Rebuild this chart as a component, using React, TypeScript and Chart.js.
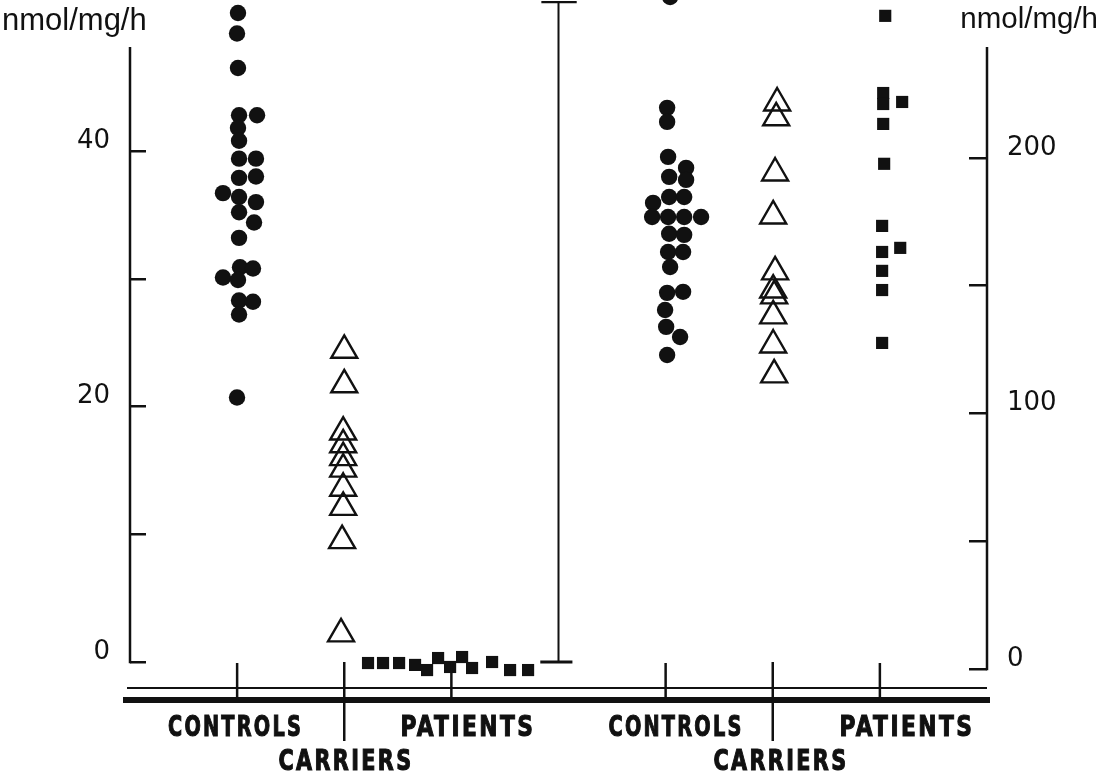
import React, { useEffect, useRef } from 'react';
import { Chart, registerables } from 'chart.js';

Chart.register(...registerables);

const INK = '#111111';
const UNIT = 'nmol/mg/h';

const CATEGORY_LABELS = ['CONTROLS', 'CARRIERS', 'PATIENTS', 'CONTROLS', 'CARRIERS', 'PATIENTS'];
const CATEGORY_X = [1, 2, 3, 5, 6, 7];
const SEPARATOR_X = 4;

const LEFT_TICKS = [0, 10, 20, 30, 40];
const LEFT_TICK_LABELS = ['0', '', '20', '', '40'];
const RIGHT_TICKS = [0, 50, 100, 150, 200];
const RIGHT_TICK_LABELS = ['0', '', '100', '', '200'];
const LEFT_AXIS_TOP = 48.14;
const RIGHT_AXIS_TOP = 243.4;

// Left panel (left axis)
const leftControlsX = [1.008, 0.999, 1.008, 1.018, 1.186, 1.008, 1.018, 1.018, 1.176, 1.018, 1.176, 0.868, 1.018, 1.176, 1.018, 1.158, 1.018, 1.027, 1.148, 0.868, 1.008, 1.018, 1.148, 1.018, 0.999];
const leftControlsY = [50.8, 49.2, 46.5, 42.8, 42.8, 41.8, 40.8, 39.4, 39.4, 37.9, 38.0, 36.7, 36.4, 36.0, 35.2, 34.4, 33.2, 30.9, 30.8, 30.1, 29.9, 28.3, 28.2, 27.2, 20.7];

const leftCarriersX = [2.0, 2.0, 1.99, 1.99, 1.99, 1.99, 1.99, 1.99, 1.98, 1.97];
const leftCarriersY = [24.4, 21.7, 18.0, 17.0, 16.0, 15.1, 13.6, 12.1, 9.5, 2.2];

const leftPatientsX = [2.222, 2.362, 2.512, 2.661, 2.773, 2.876, 2.988, 3.1, 3.193, 3.38, 3.548, 3.716];
const leftPatientsY = [-0.08, -0.08, -0.08, -0.23, -0.63, 0.31, -0.39, 0.39, -0.47, 0.0, -0.63, -0.63];

// Right panel (right axis)
const rightControlsX = [5.042, 5.014, 5.014, 5.023, 5.191, 5.033, 5.191, 4.883, 5.033, 5.173, 4.874, 5.023, 5.173, 5.331, 5.033, 5.173, 5.023, 5.163, 5.042, 5.014, 5.163, 4.995, 5.005, 5.135, 5.014];
const rightControlsY = [263, 219.6, 214.1, 200.4, 196.1, 192.6, 191.4, 182.4, 184.7, 184.7, 176.9, 176.9, 176.9, 176.9, 170.3, 169.9, 163.2, 163.2, 157.3, 147.2, 147.6, 140.5, 133.9, 129.9, 122.9];

const rightCarriersX = [6.041, 6.032, 6.022, 6.004, 6.022, 6.004, 6.013, 6.004, 6.004, 6.013];
const rightCarriersY = [221.5, 215.7, 194.1, 177.3, 155.4, 148.3, 146.0, 138.2, 126.8, 115.1];

const rightPatientsX = [7.05, 7.031, 7.031, 7.208, 7.031, 7.04, 7.021, 7.021, 7.19, 7.021, 7.021, 7.021];
const rightPatientsY = [255.6, 225.4, 221.1, 221.9, 213.3, 197.7, 173.4, 163.2, 164.8, 155.8, 148.3, 127.6];

const SEPARATOR_TOP = 51.66;

const pts = (xs: number[], ys: number[]) => xs.map((x, i) => ({ x, y: ys[i] }));

const circles = (xs: number[], ys: number[], axis: string) => ({
  data: pts(xs, ys),
  yAxisID: axis,
  pointStyle: 'circle',
  pointRadius: 8.2,
  pointBackgroundColor: INK,
  pointBorderColor: INK,
  pointBorderWidth: 0,
  showLine: false,
  clip: false,
});
const triangles = (xs: number[], ys: number[], axis: string) => ({
  data: pts(xs, ys),
  yAxisID: axis,
  pointStyle: 'triangle',
  pointRadius: 15,
  pointBackgroundColor: 'rgba(0,0,0,0)',
  pointBorderColor: INK,
  pointBorderWidth: 2.4,
  showLine: false,
  clip: false,
});
const squares = (xs: number[], ys: number[], axis: string) => ({
  data: pts(xs, ys),
  yAxisID: axis,
  pointStyle: 'rect',
  pointRadius: 8.6,
  pointBackgroundColor: INK,
  pointBorderColor: INK,
  pointBorderWidth: 0,
  showLine: false,
  clip: false,
});
const rule = (data: { x: number; y: number }[], width: number) => ({
  data,
  yAxisID: 'y',
  showLine: true,
  borderColor: INK,
  borderWidth: width,
  pointRadius: 0,
  clip: false,
});

const LABEL_SHIFT = [-1.6, 1.7, 16.6, 10.4, 8.2, 27.1];
const LABEL_ROW = [0, 1, 0, 0, 1, 0];

const decor = {
  id: 'decor',
  afterDraw(chart: any) {
    const { ctx, chartArea, scales } = chart;
    const xs = scales.x;
    const ys = scales.y;
    const ys2 = scales.y2;
    ctx.save();
    ctx.strokeStyle = INK;
    ctx.fillStyle = INK;
    ctx.lineCap = 'butt';

    // axis lines (from top of scale down to zero)
    const zeroL = ys.getPixelForValue(0);
    const zeroR = ys2.getPixelForValue(0);
    ctx.lineWidth = 2.5;
    ctx.beginPath();
    ctx.moveTo(chartArea.left, ys.getPixelForValue(LEFT_AXIS_TOP));
    ctx.lineTo(chartArea.left, zeroL + 1.25);
    ctx.moveTo(chartArea.right, ys2.getPixelForValue(RIGHT_AXIS_TOP));
    ctx.lineTo(chartArea.right, zeroR + 1.25);
    ctx.stroke();

    // base lines
    const thinY = zeroR + 19;
    const thickY = zeroR + 31;
    ctx.lineWidth = 2;
    ctx.beginPath();
    ctx.moveTo(chartArea.left - 3, thinY);
    ctx.lineTo(chartArea.right, thinY);
    ctx.stroke();
    ctx.lineWidth = 6;
    ctx.beginPath();
    ctx.moveTo(chartArea.left - 7, thickY);
    ctx.lineTo(chartArea.right + 3, thickY);
    ctx.stroke();

    // category ticks
    ctx.lineWidth = 2.5;
    CATEGORY_X.forEach((cx, i) => {
      const px = xs.getPixelForValue(cx);
      ctx.beginPath();
      if (LABEL_ROW[i] === 1) {
        ctx.moveTo(px, zeroL);
        ctx.lineTo(px, zeroR + 72);
      } else {
        ctx.moveTo(px, zeroL + 1);
        ctx.lineTo(px, thickY);
      }
      ctx.stroke();
    });

    // category labels
    ctx.font = 'bold 29px "Liberation Sans Narrow", "DejaVu Sans Condensed", "Liberation Sans", Arial, sans-serif';
    try { (ctx as any).letterSpacing = '3px'; } catch (e) {}
    ctx.textAlign = 'center';
    ctx.textBaseline = 'middle';
    ctx.lineWidth = 1.1;
    CATEGORY_LABELS.forEach((lab, i) => {
      const px = xs.getPixelForValue(CATEGORY_X[i]) + LABEL_SHIFT[i];
      const py = zeroR + (LABEL_ROW[i] === 1 ? 93 : 59);
      const w = ctx.measureText(lab).width;
      ctx.save();
      ctx.translate(px, py);
      ctx.scale(135 / w, 1);
      ctx.fillText(lab, 0, 0);
      ctx.strokeText(lab, 0, 0);
      ctx.restore();
    });
    try { (ctx as any).letterSpacing = '0px'; } catch (e) {}

    // units
    ctx.textBaseline = 'alphabetic';
    ctx.textAlign = 'left';
    ctx.font = '31px "Liberation Sans", Arial, sans-serif';
    ctx.fillText(UNIT, 2, 30);
    ctx.textAlign = 'right';
    ctx.font = '29.5px "Liberation Sans", Arial, sans-serif';
    ctx.fillText(UNIT, 1098, 28);
    ctx.restore();
  },
};

export default function App() {
  const ref = useRef<HTMLCanvasElement | null>(null);

  useEffect(() => {
    if (!ref.current) return;
    const chart = new Chart(ref.current, {
      type: 'scatter',
      data: {
        datasets: [
          rule([{ x: SEPARATOR_X, y: 0 }, { x: SEPARATOR_X, y: SEPARATOR_TOP }], 2),
          rule([{ x: SEPARATOR_X - 0.16, y: SEPARATOR_TOP }, { x: SEPARATOR_X + 0.17, y: SEPARATOR_TOP }], 2.2),
          rule([{ x: SEPARATOR_X - 0.17, y: 0 }, { x: SEPARATOR_X + 0.13, y: 0 }], 2.8),
          circles(leftControlsX, leftControlsY, 'y'),
          triangles(leftCarriersX, leftCarriersY, 'y'),
          squares(leftPatientsX, leftPatientsY, 'y'),
          circles(rightControlsX, rightControlsY, 'y2'),
          triangles(rightCarriersX, rightCarriersY, 'y2'),
          squares(rightPatientsX, rightPatientsY, 'y2'),
        ] as any,
      },
      options: {
        responsive: false,
        animation: false,
        events: [],
        layout: { autoPadding: false, padding: { top: 0, bottom: 109, left: 0, right: 0 } },
        plugins: { legend: { display: false }, tooltip: { enabled: false }, title: { display: false } },
        scales: {
          x: { type: 'linear', min: 0, max: 8, display: false },
          y: {
            type: 'linear',
            position: 'left',
            min: -0.548,
            max: 51.82,
            afterBuildTicks: (s: any) => { s.ticks = LEFT_TICKS.map((v) => ({ value: v })); },
            afterFit: (s: any) => { s.width = 130; s.paddingTop = 0; s.paddingBottom = 0; },
            grid: { drawOnChartArea: false, drawTicks: true, tickLength: -16, color: INK, lineWidth: 2.5 },
            border: { display: false },
            ticks: {
              autoSkip: false,
              padding: 36,
              labelOffset: -10,
              color: INK,
              font: { family: '"DejaVu Sans", sans-serif', size: 26 },
              callback: (v: any) => LEFT_TICK_LABELS[LEFT_TICKS.indexOf(Number(v))] ?? '',
            },
          },
          y2: {
            type: 'linear',
            position: 'right',
            min: 0,
            max: 261.8,
            afterBuildTicks: (s: any) => { s.ticks = RIGHT_TICKS.map((v) => ({ value: v })); },
            afterFit: (s: any) => { s.width = 124; s.paddingTop = 0; s.paddingBottom = 0; },
            grid: { drawOnChartArea: false, drawTicks: true, tickLength: -18, color: INK, lineWidth: 2.5 },
            border: { display: false },
            ticks: {
              autoSkip: false,
              padding: 38,
              labelOffset: -10,
              color: INK,
              font: { family: '"DejaVu Sans", sans-serif', size: 26 },
              callback: (v: any) => RIGHT_TICK_LABELS[RIGHT_TICKS.indexOf(Number(v))] ?? '',
            },
          },
        },
      } as any,
      plugins: [decor],
    });
    return () => chart.destroy();
  }, []);

  return (
    <div style={{ position: 'absolute', left: 0, top: 0, width: 1111, height: 778, background: '#fff' }}>
      <canvas ref={ref} width={1111} height={778} style={{ width: 1111, height: 778, display: 'block' }} />
    </div>
  );
}
